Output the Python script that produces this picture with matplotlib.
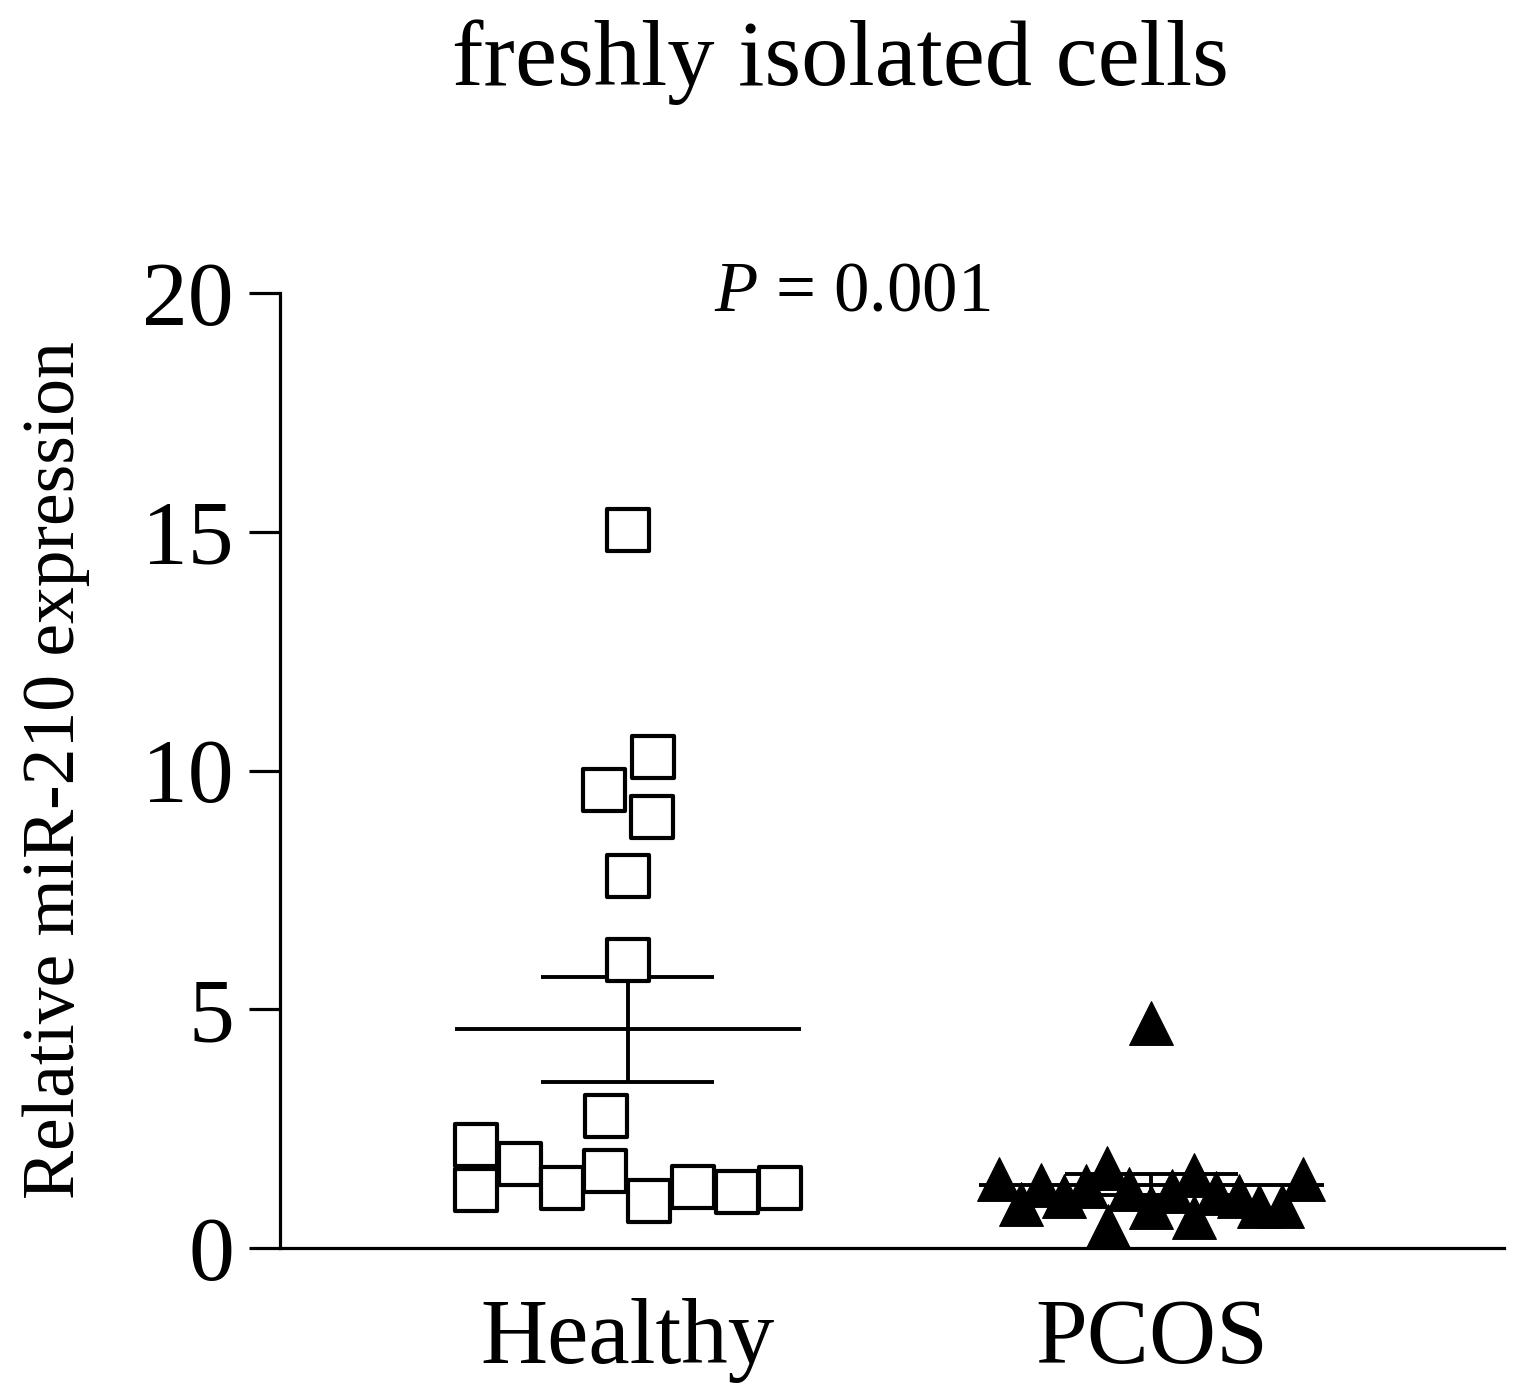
import numpy as np
import matplotlib
matplotlib.use("Agg")
import matplotlib.pyplot as plt

# ---- data ----
groups = ["Healthy", "PCOS"]
healthy_vals = [15.03, 10.28, 9.59, 9.02, 7.79, 6.04, 2.77, 2.16, 1.22,
                1.76, 1.26, 1.61, 0.99, 1.28, 1.18, 1.26]
pcos_vals = [4.72, 1.44, 1.33, 1.29, 1.67, 1.23, 1.54, 1.44, 0.93, 1.10,
             0.47, 0.87, 0.66, 0.89, 0.89, 1.20, 1.15, 1.10]
y_ticks = [0, 5, 10, 15, 20]
title_text = "freshly isolated cells"
ylabel_text = "Relative miR-210 expression"
p_text = "$P$ = 0.001"

# horizontal scatter offsets (layout, in pixels)
healthy_dx = [0, 25, -24, 24, 0, 0, -22, -152, -152, -108, -66, -23, 21, 65, 109, 152]
pcos_dx = [0, -152, -110, -65, -44, -22, 43, 152, -130, -87, -43, 0, 43, 108, 131, 21, 65, 88]
PX = 1.0 / 524.0

plt.rcParams['font.family'] = ['Liberation Serif', 'DejaVu Serif']
plt.rcParams['mathtext.fontset'] = 'custom'
plt.rcParams['mathtext.rm'] = 'Liberation Serif'
plt.rcParams['mathtext.it'] = 'Liberation Serif:italic'

fig = plt.figure(figsize=(15.23, 13.94), dpi=100)
ax = fig.add_axes([0.1838, 0.1047, 0.804, 0.6851])

lw = 2.3
elw = 2.8
for i, vals in enumerate([healthy_vals, pcos_vals]):
    v = np.array(vals)
    m = v.mean()
    sem = v.std(ddof=1) / np.sqrt(len(v))
    ax.plot([i - 0.33, i + 0.33], [m, m], color='black', lw=elw, zorder=2, solid_capstyle='butt')
    ax.plot([i - 0.165, i + 0.165], [m + sem, m + sem], color='black', lw=elw, zorder=2, solid_capstyle='butt')
    ax.plot([i - 0.165, i + 0.165], [m - sem, m - sem], color='black', lw=elw, zorder=2, solid_capstyle='butt')
    ax.plot([i, i], [m - sem, m + sem], color='black', lw=elw, zorder=2, solid_capstyle='butt')

hx = 0 + np.array(healthy_dx) * PX
px = 1 + np.array(pcos_dx) * PX
ax.scatter(hx, healthy_vals, marker='s', s=30.5**2, facecolor='white',
           edgecolor='black', linewidths=3.0, zorder=3)
ax.scatter(px, pcos_vals, marker='^', s=31.5**2, facecolor='black',
           edgecolor='black', linewidths=0.8, zorder=3)

ax.set_xlim(-0.664, 1.674)
ax.set_ylim(0, 20)
ax.set_yticks(y_ticks)
ax.set_yticklabels([str(t) for t in y_ticks], fontsize=66)
ax.set_xticks([0, 1])
ax.set_xticklabels(groups, fontsize=67)
ax.tick_params(axis='y', length=22, width=lw, pad=11)
ax.tick_params(axis='x', length=0, pad=36)
for s in ['top', 'right']:
    ax.spines[s].set_visible(False)
for s in ['left', 'bottom']:
    ax.spines[s].set_linewidth(lw)
ax.set_ylabel(ylabel_text, fontsize=53, labelpad=38)

ax.text(0.5 * (852 - 280) / 612.5, 1.0, p_text, transform=ax.transAxes,
        ha='center', va='center', fontsize=51)
fig.text(840 / 1523, 1 - 62 / 1394, title_text, ha='center', va='center', fontsize=68)

fig.savefig("out.png", dpi=100)
